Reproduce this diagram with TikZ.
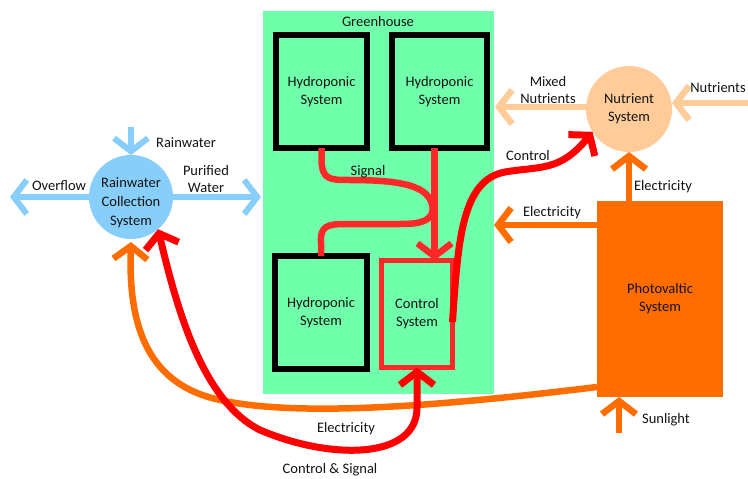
\documentclass[tikz,border=0pt]{standalone}
\usepackage{fontspec}
\setmainfont{Carlito}
\usetikzlibrary{arrows.meta}
\definecolor{ghgreen}{RGB}{112,255,170}
\definecolor{rwblue}{RGB}{135,206,250}
\definecolor{peach}{RGB}{255,204,153}
\definecolor{pvorange}{RGB}{255,108,0}
\definecolor{sigred}{RGB}{255,40,40}
\definecolor{ctlred}{RGB}{255,0,0}
\definecolor{txt}{RGB}{20,20,20}
\begin{document}
\begin{tikzpicture}[x=1pt,y=-1pt,
  font=\fontsize{14.5}{18}\selectfont,
  every node/.style={inner sep=0pt, outer sep=0pt, text=txt},
  box/.style={draw=black, line width=6pt, fill=ghgreen, align=center},
  circ/.style={circle, align=center},
  lbl/.style={align=center, font=\fontsize{14.5}{17}\selectfont},
  barb/.style={-{Straight Barb[length=13pt,width=34pt]}},
  barbs/.style={{Straight Barb[length=13pt,width=34pt]}-{Straight Barb[length=13pt,width=34pt]}},
  bl/.style={draw=rwblue, line width=6pt},
  pe/.style={draw=peach, line width=6.5pt},
  orl/.style={draw=pvorange, line width=6.5pt},
  sig/.style={draw=sigred, line width=6.5pt},
  crl/.style={draw=ctlred, line width=7pt}]
\useasboundingbox (0,0) rectangle (748,479);
\fill[white] (0,0) rectangle (748,479);

% greenhouse
\node[fill=ghgreen, minimum width=231pt, minimum height=383pt] (gh) at (378.5,202.5) {};
\node (ghl) at (378,22) {Greenhouse};

\node[box, minimum width=91pt, minimum height=113pt] (hy1) at (321.5,91.5) {Hydroponic\\System};
\node[box, minimum width=95pt, minimum height=113pt] (hy2) at (439.5,91.5) {Hydroponic\\System};
\node[box, minimum width=92pt, minimum height=113pt] (hy3) at (321,312.5) {Hydroponic\\System};
\node[draw=sigred, line width=5pt, fill=ghgreen, align=center, minimum width=71pt, minimum height=107pt] (ctl) at (417,314) {Control\\System};

% signal lines
\draw[sig] (hy1.south) -- ++(0,12) .. controls (322,180) and (330,180) .. (350,180)
   .. controls (410,180) and (433,188) .. (433,212);
\draw[sig] (hy3.north) -- ++(0,-14) .. controls (320,226) and (328,224) .. (345,224)
   -- (400,224) .. controls (424,224) and (433,220) .. (433,206);
\draw[sig, barb] ([xshift=-5pt]hy2.south) -- ([xshift=-5pt]hy2.south |- ctl.north);
\node (lsig) at (368,172) {Signal};

% rainwater system
\node[circ, fill=rwblue, minimum size=84pt] (rw) at (131,197) {};
\node[align=center, font=\fontsize{14.5}{19}\selectfont] (rwt) at (131,203) {Rainwater\\Collection\\System};
\coordinate (rwin) at (131,127);
\coordinate (ovf) at (10,197);
\coordinate (pur) at (261,197);
\draw[bl, barb] (rwin) -- (rw.north);
\draw[bl, barb] (rw.west) -- (ovf);
\draw[bl, barb] (rw.east) -- (pur);
\node (lrw) at (186,143) {Rainwater};
\node (lovf) at (59,186) {Overflow};
\node[lbl] (lpur) at (206,179) {Purified\\Water};

% nutrient system
\node[circ, fill=peach, minimum size=86pt] (nut) at (629,109) {Nutrient\\System};
\coordinate (mix) at (495,107);
\coordinate (nin) at (748,103);
\draw[pe, barb] (nut.west |- mix) -- (mix);
\draw[pe, barb] (nin) -- (nin -| nut.east);
\node[lbl] (lmix) at (548,90) {Mixed\\Nutrients};
\node (lnin) at (718,88) {Nutrients};

% photovoltaic
\node[fill=pvorange, minimum width=126pt, minimum height=196pt, align=center] (pv) at (660,299) {Photovaltic\\System};
\coordinate (elin) at (494,225);
\coordinate (sun) at (619,433);
\coordinate (pvo) at (597,387);
\draw[orl, barb] (pv.north -| nut.south) -- (nut.south);
\draw[orl, barb] (pv.west |- elin) -- (elin);
\draw[orl, barb] (sun) -- (sun |- pv.south);
\node (lel1) at (663,187) {Electricity};
\node (lel2) at (552,213) {Electricity};
\node (lsun) at (666,420) {Sunlight};

% long curves
\draw[orl, barb] (pvo) .. controls (450,405) and (300,418) .. (220,400)
   .. controls (150,385) and (128,330) .. ([yshift=-3pt]rw.south);
\draw[crl, barbs] (ctl.south) -- ++(0,40) .. controls (417,460) and (330,460) .. (260,430)
   .. controls (200,400) and (175,300) .. (rw.-50);
\draw[crl, barb] ([yshift=-8pt]ctl.east) .. controls (458,240) and (462,180) .. (505,172)
   .. controls (540,166) and (560,172) .. (nut.212);
\node (lctl) at (528,156) {Control};
\node (lel3) at (346,429) {Electricity};
\node (lcs) at (330,470) {Control \& Signal};
\end{tikzpicture}
\end{document}
